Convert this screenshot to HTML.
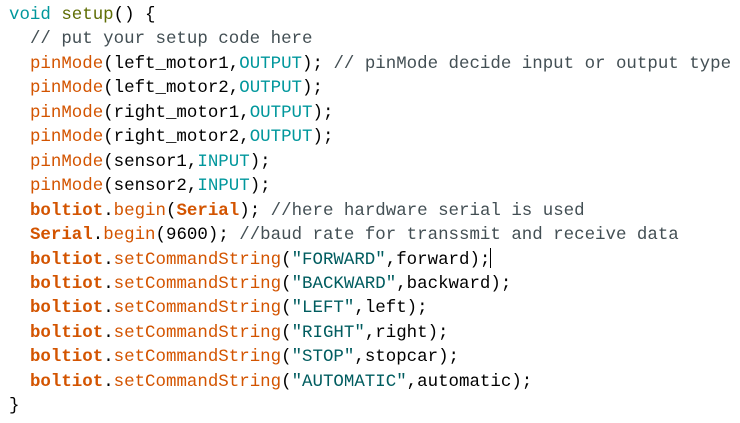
<!DOCTYPE html>
<html><head><meta charset="utf-8"><style>
html,body{margin:0;padding:0;background:#fff;width:740px;height:423px;overflow:hidden}
pre{margin:0;position:absolute;left:9px;top:3px;font-family:"Liberation Mono",monospace;font-size:17.45px;line-height:24.45px;color:#000}
.k{color:#00979c}.f{color:#5e6d03}.o{color:#d35400}.b{color:#d35400;font-weight:bold}.c{color:#434f54}.s{color:#005c5f}
.cur{display:inline-block;width:1px;height:20px;background:#000;vertical-align:-4px}
</style></head><body><pre><span class="k">void</span> <span class="f">setup</span>() {
  <span class="c">// put your setup code here</span>
  <span class="o">pinMode</span>(left_motor1,<span class="k">OUTPUT</span>); <span class="c">// pinMode decide input or output type</span>
  <span class="o">pinMode</span>(left_motor2,<span class="k">OUTPUT</span>);
  <span class="o">pinMode</span>(right_motor1,<span class="k">OUTPUT</span>);
  <span class="o">pinMode</span>(right_motor2,<span class="k">OUTPUT</span>);
  <span class="o">pinMode</span>(sensor1,<span class="k">INPUT</span>);
  <span class="o">pinMode</span>(sensor2,<span class="k">INPUT</span>);
  <span class="b">boltiot</span>.<span class="o">begin</span>(<span class="b">Serial</span>); <span class="c">//here hardware serial is used</span>
  <span class="b">Serial</span>.<span class="o">begin</span>(9600); <span class="c">//baud rate for transsmit and receive data</span>
  <span class="b">boltiot</span>.<span class="o">setCommandString</span>(<span class="s">"FORWARD"</span>,forward);<span class="cur"></span>
  <span class="b">boltiot</span>.<span class="o">setCommandString</span>(<span class="s">"BACKWARD"</span>,backward);
  <span class="b">boltiot</span>.<span class="o">setCommandString</span>(<span class="s">"LEFT"</span>,left);
  <span class="b">boltiot</span>.<span class="o">setCommandString</span>(<span class="s">"RIGHT"</span>,right);
  <span class="b">boltiot</span>.<span class="o">setCommandString</span>(<span class="s">"STOP"</span>,stopcar);
  <span class="b">boltiot</span>.<span class="o">setCommandString</span>(<span class="s">"AUTOMATIC"</span>,automatic);
}</pre></body></html>
